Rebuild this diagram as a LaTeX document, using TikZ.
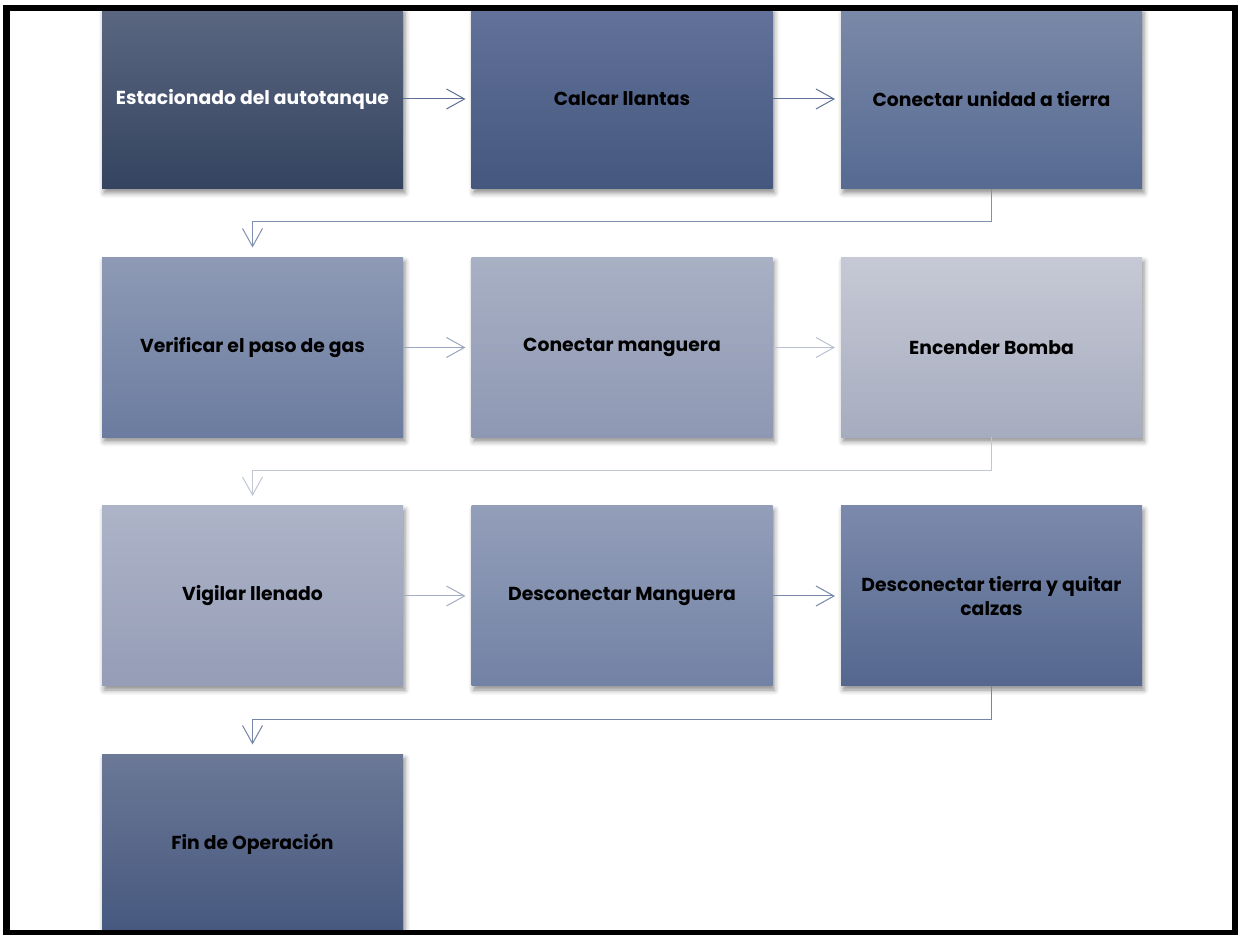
\documentclass[tikz,border=0pt]{standalone}
\usepackage{fontspec}
\setmainfont{Poppins}
\usepackage{tikz}
\usetikzlibrary{arrows.meta,positioning,shadows.blur}

% colores de las cajas (arriba / abajo)
\definecolor{estA}{HTML}{5B6781}  \definecolor{estB}{HTML}{34435F}
\definecolor{calA}{HTML}{62729A}  \definecolor{calB}{HTML}{45577E}
\definecolor{tieA}{HTML}{7A89A8}  \definecolor{tieB}{HTML}{566A92}
\definecolor{verA}{HTML}{8E9AB5}  \definecolor{verB}{HTML}{6B7CA0}
\definecolor{manA}{HTML}{A8B0C4}  \definecolor{manB}{HTML}{8E98B3}
\definecolor{bomA}{HTML}{C6C9D5}  \definecolor{bomB}{HTML}{A6ACBF}
\definecolor{vigA}{HTML}{ADB4C8}  \definecolor{vigB}{HTML}{959DB7}
\definecolor{desA}{HTML}{939EB9}  \definecolor{desB}{HTML}{7282A5}
\definecolor{czaA}{HTML}{7B8AAC}  \definecolor{czaB}{HTML}{55678F}
\definecolor{finA}{HTML}{6B7896}  \definecolor{finB}{HTML}{46587F}
% colores de las flechas
\definecolor{fl1}{HTML}{5C6E95}  \definecolor{fl2}{HTML}{5F7196}
\definecolor{fl3}{HTML}{8090B2}  \definecolor{fl4}{HTML}{9AA5C0}
\definecolor{fl5}{HTML}{BCC1D1}  \definecolor{fl6}{HTML}{C2C6D3}
\definecolor{fl7}{HTML}{A3ACC3}  \definecolor{fl8}{HTML}{7888AB}
\definecolor{fl9}{HTML}{7585A8}

\begin{document}
\begin{tikzpicture}[->, >={Straight Barb[length=9pt,width=10pt]}, node distance=34.25pt, line width=0.5pt, shorten >=3pt]
    \tikzstyle{paso}=[rectangle, minimum width=150.5pt, minimum height=90pt, inner sep=0pt, outer sep=0pt,
        font=\fontsize{9.4}{12}\selectfont\bfseries, align=center, text=black,
        blur shadow={shadow xshift=1pt, shadow yshift=-2pt, shadow blur radius=2.5pt, shadow opacity=45}]

    \useasboundingbox (0,0) rectangle (619pt,-467.5pt);
    \clip (0,0) rectangle (619pt,-467.5pt);

    \node[paso, top color=estA, bottom color=estB, text=white] (estacionado) at (126.25pt,-49.5pt) {Estacionado del autotanque};
    \node[paso, top color=calA, bottom color=calB] (calcar) [right=of estacionado] {Calcar llantas};
    \node[paso, top color=tieA, bottom color=tieB] (tierra) [right=of calcar] {Conectar unidad a tierra};
    \node[paso, top color=verA, bottom color=verB] (verificar) [below=of estacionado] {Verificar el paso de gas};
    \node[paso, top color=manA, bottom color=manB] (manguera) [right=of verificar] {Conectar manguera};
    \node[paso, top color=bomA, bottom color=bomB] (bomba) [right=of manguera] {Encender Bomba};
    \node[paso, top color=vigA, bottom color=vigB] (vigilar) [below=of verificar] {Vigilar llenado};
    \node[paso, top color=desA, bottom color=desB] (desconectar) [right=of vigilar] {Desconectar Manguera};
    \node[paso, top color=czaA, bottom color=czaB] (calzas) [right=of desconectar] {Desconectar tierra y quitar\\calzas};
    \node[paso, top color=finA, bottom color=finB] (fin) [below=of vigilar] {Fin de Operación};

    \path
    (estacionado) edge [fl1] (calcar)
    (calcar)      edge [fl2] (tierra)
    (verificar)   edge [fl4] (manguera)
    (manguera)    edge [fl5] (bomba)
    (vigilar)     edge [fl7] (desconectar)
    (desconectar) edge [fl8] (calzas);

    \draw[fl3, shorten >=5pt] (tierra.south) -- ++(0,-16.5pt) -| (verificar.north);
    \draw[fl6, shorten >=5pt] (bomba.south) -- ++(0,-16.5pt) -| (vigilar.north);
    \draw[fl9, shorten >=5pt] (calzas.south) -- ++(0,-16.5pt) -| (fin.north);

    \draw[-, black, line width=3.2pt, shorten >=0pt] (3.25pt,-4pt) rectangle (617.75pt,-466.75pt);

  \end{tikzpicture}
\end{document}
